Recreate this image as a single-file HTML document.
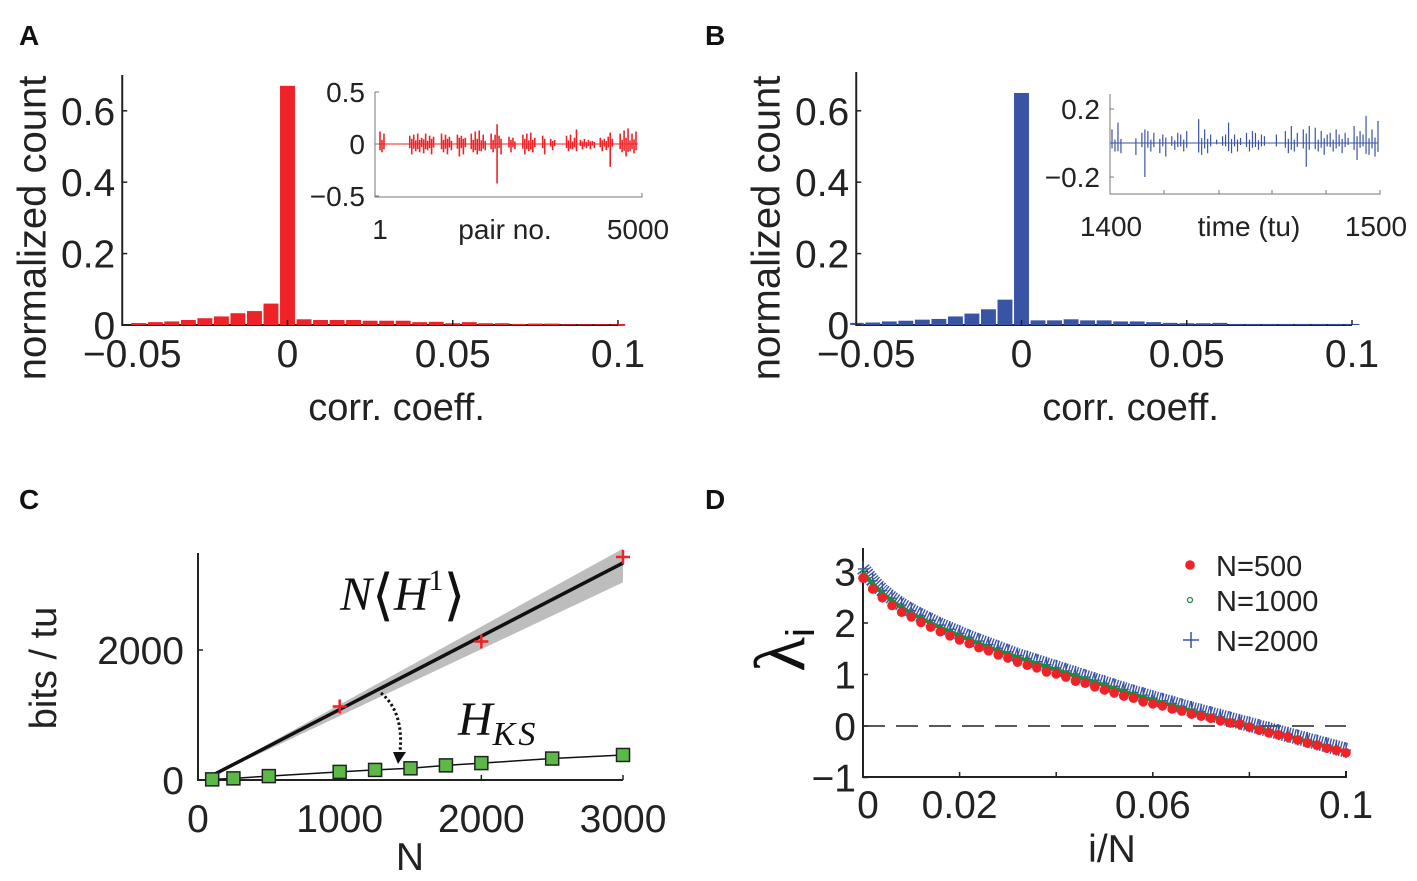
<!DOCTYPE html>
<html><head><meta charset="utf-8">
<style>
html,body{margin:0;padding:0;background:#fff;}
svg{display:block;font-family:"Liberation Sans",Arial,sans-serif;}
</style></head>
<body>
<svg id="fig" width="1417" height="881" viewBox="0 0 1417 881" xmlns="http://www.w3.org/2000/svg">
<g font-weight="bold" font-size="28" fill="#111">
<text x="19" y="45">A</text>
<text x="705" y="45">B</text>
<text x="19" y="509">C</text>
<text x="705" y="509">D</text>
</g>
<g id="pa"></g>
<g id="pb"></g>
<g id="pc"></g>
<g id="pd"></g>
</svg>
<script>
// ---- Panel A/B histogram data ----
const binCentersA = [-0.045,-0.04,-0.035,-0.03,-0.025,-0.02,-0.015,-0.01,-0.005,0,0.005,0.01,0.015,0.02,0.025,0.03,0.035,0.04,0.045,0.05,0.055,0.06,0.065,0.07,0.075,0.08,0.085,0.09,0.095,0.1];
const countsA = [0.0055,0.008,0.010,0.014,0.019,0.024,0.033,0.039,0.060,0.67,0.016,0.014,0.014,0.014,0.012,0.012,0.012,0.008,0.009,0.005,0.008,0.005,0.005,0.003,0.004,0.004,0.002,0.002,0.002,0.002];
const binCentersB = [-0.05,-0.045,-0.04,-0.035,-0.03,-0.025,-0.02,-0.015,-0.01,-0.005,0,0.005,0.01,0.015,0.02,0.025,0.03,0.035,0.04,0.045,0.05,0.055,0.06,0.065,0.07,0.075,0.08,0.085,0.09,0.095,0.1];
const countsB = [0.006,0.007,0.010,0.012,0.015,0.017,0.024,0.032,0.044,0.071,0.65,0.013,0.013,0.016,0.013,0.013,0.010,0.010,0.008,0.006,0.005,0.005,0.006,0.003,0.003,0.003,0.003,0.003,0.003,0.003,0.003];
const histXTicks = [-0.05,0,0.05,0.1];
const histXTickLabels = ["\u22120.05","0","0.05","0.1"];
const histYTicks = [0,0.2,0.4,0.6];
const histYTickLabels = ["0","0.2","0.4","0.6"];
// inset A (pair no.)
const insetAValues = [0.12,-0.08,0.1,0,0,0,0,0,0,0,0,0,0,0,0,
 0.08,-0.1,0.09,-0.07,0.1,-0.08,0.06,-0.09,0.1,-0.06,0.08,-0.1,0.07,0,0,0,
 0.1,-0.08,0.09,-0.1,0.07,-0.06,0,0,
 0.09,-0.12,0.08,-0.1,0.06,0,0,
 0.1,-0.08,0.12,-0.1,0.13,-0.07,0.09,-0.06,0,0,
 0.1,-0.08,0.09,-0.38,0.08,-0.1,0,0,0,
 0.07,-0.08,0.06,-0.05,0,0,0,
 0.09,-0.1,0.1,-0.07,0.11,-0.08,0.06,0,0,0,
 0.08,-0.1,0,0,
 0.05,-0.06,0.04,0,0,0,0,0,
 0.08,-0.07,0.09,-0.05,0.06,0.14,0,
 0.04,-0.05,0.05,-0.04,0.04,-0.05,0.03,-0.04,0,0,
 0.06,-0.07,0.05,-0.06,0.07,-0.22,0.05,0,0,0,
 0.1,-0.08,0.13,-0.12,0.15,-0.07,0.1,-0.09,0.12];
const insetAYTicks = [-0.5,0,0.5];
const insetAYLabels = ["\u22120.5","0","0.5"];
// inset B (time)
const insetBValues = [0.08,-0.05,0.12,-0.06,0,0,0,0,-0.07,0,0.06,-0.2,0.07,-0.05,0.06,0,-0.06,0.05,-0.08,0,
 0.04,-0.04,0.06,0.05,-0.05,0.07,0,0,0,0.14,-0.07,0.08,-0.06,0.05,0,0.02,0,0.04,0.05,0.12,
 -0.06,0.05,-0.05,0.03,0,0.06,-0.05,0.07,0.06,-0.04,0.05,0.04,0,0,0,0.05,0,0,0.07,-0.06,
 0.1,-0.05,0.06,0,0.08,-0.14,0.1,0,0.09,-0.05,0.07,-0.07,0.05,0.06,-0.05,0.08,0.05,-0.06,0.06,0.03,
 0,0.1,-0.1,0.07,0.05,0.16,-0.07,0.08,-0.08,0.13];
const insetBYTicks = [-0.2,0.2];
const insetBYLabels = ["\u22120.2","0.2"];

// ---- Panel C data ----
const nValues = [100,250,500,1000,1250,1500,1750,2000,2500,3000];
const hksValues = [10,25,60,125,155,180,225,260,330,385];
const meanLineN = [100,3000];
const meanLineH = [70,3340];
const bandUpper = [80,3560];
const bandLower = [60,3040];
const crossN = [1000,2000,3000];
const crossH = [1130,2130,3430];
const cXTicks = [0,1000,2000,3000];
const cYTicks = [0,2000];

// ---- Panel D data ----
const dX = [0,0.002,0.004,0.006,0.008,0.010,0.012,0.014,0.016,0.018,0.020,0.022,0.024,0.026,0.028,0.030,0.032,0.034,0.036,0.038,0.040,0.042,0.044,0.046,0.048,0.050,0.052,0.054,0.056,0.058,0.060,0.062,0.064,0.066,0.068,0.070,0.072,0.074,0.076,0.078,0.080,0.082,0.084,0.086,0.088,0.090,0.092,0.094,0.096,0.098,0.100];
const lambda500 = [2.87,2.66,2.49,2.34,2.21,2.12,2.01,1.92,1.83,1.75,1.67,1.60,1.52,1.46,1.38,1.32,1.24,1.18,1.13,1.05,1.01,0.95,0.87,0.83,0.76,0.70,0.64,0.58,0.54,0.47,0.43,0.39,0.33,0.29,0.23,0.19,0.15,0.10,0.06,0.04,-0.02,-0.08,-0.13,-0.17,-0.21,-0.27,-0.33,-0.37,-0.43,-0.47,-0.52];
const lambda1000 = [2.98,2.76,2.58,2.43,2.30,2.19,2.09,2.00,1.91,1.83,1.75,1.68,1.60,1.53,1.46,1.40,1.33,1.27,1.21,1.15,1.09,1.03,0.97,0.91,0.85,0.79,0.73,0.67,0.61,0.56,0.50,0.45,0.40,0.35,0.29,0.24,0.19,0.14,0.09,0.05,0.0,-0.05,-0.10,-0.15,-0.20,-0.25,-0.30,-0.35,-0.40,-0.45,-0.50];
const lambda2000 = [3.05,2.82,2.63,2.48,2.35,2.24,2.14,2.05,1.96,1.88,1.80,1.72,1.65,1.58,1.51,1.44,1.37,1.31,1.25,1.19,1.13,1.07,1.01,0.95,0.89,0.83,0.77,0.71,0.65,0.60,0.54,0.49,0.44,0.38,0.33,0.28,0.23,0.18,0.13,0.08,0.03,-0.02,-0.07,-0.12,-0.17,-0.22,-0.27,-0.32,-0.37,-0.42,-0.47];
const dXTicks = [0,0.02,0.04,0.06,0.08,0.1];
const dXLabels = {"0":"0","0.02":"0.02","0.06":"0.06","0.1":"0.1"};
const dYTicks = [-1,0,1,2,3];

const NS="http://www.w3.org/2000/svg";
function mk(parent,tag,attrs,txt){const e=document.createElementNS(NS,tag);for(const k in attrs)e.setAttribute(k,attrs[k]);if(txt!==undefined)e.textContent=txt;parent.appendChild(e);return e;}

function histogram(g,centers,counts,color,x0px,y0px,axTop){
  const xs=v=>x0px+(v-0)*3305, ys=v=>y0px-v*357;
  const ax=mk(g,'path',{d:`M${xs(-0.05)},${axTop} V${y0px} H${xs(0.1)}`,fill:'none',stroke:'#222','stroke-width':2});
  
  
  centers.forEach((c,i)=>{
    let l=xs(c-0.0025)+0.8, r=xs(c+0.0025)-0.8;
    if(l<xs(-0.05)+1) l=xs(-0.05)-6;
    const b=mk(g,'rect',{x:l,y:ys(counts[i]),width:r-l,height:y0px-ys(counts[i]),fill:color});
    
    
  });
  histYTicks.forEach((t,i)=>{
    mk(g,'line',{x1:xs(-0.05),x2:xs(-0.05)+5,y1:ys(t),y2:ys(t),stroke:'#222','stroke-width':1.5});
    const tl=mk(g,'text',{x:xs(-0.05)-7,y:ys(t)+14,'text-anchor':'end','font-size':39,fill:'#222'},histYTickLabels[i]);
    
    
  });
  histXTicks.forEach((t,i)=>{
    mk(g,'line',{x1:xs(t),x2:xs(t),y1:y0px,y2:y0px-5,stroke:'#222','stroke-width':1.5});
    const tl=mk(g,'text',{x:xs(t)+(i==0?10:0),y:y0px+42,'text-anchor':'middle','font-size':39,fill:'#222'},histXTickLabels[i]);
    
    
  });
  const xl=mk(g,'text',{x:xs(0.033),y:y0px+95,'text-anchor':'middle','font-size':38,fill:'#222'},'corr. coeff.');
  
  
  const yl=mk(g,'text',{transform:`translate(${xs(-0.05)-77},228) rotate(-90)`,'text-anchor':'middle','font-size':40,fill:'#222'},'normalized count');
  
  
}
histogram(document.getElementById('pa'),binCentersA,countsA,'#ee2227',287.5,325,75);
histogram(document.getElementById('pb'),binCentersB,countsB,'#3a54a5',1021.5,325,72);
mk(document.getElementById('pa'),'line',{x1:618,x2:625,y1:325,y2:325,stroke:'#ee2227','stroke-width':2});

// inset A
(function(){
  const g=mk(document.getElementById('pa'),'g',{});
  
  
  const x0=375,xr=642,y0=144,k=104;
  const ys=v=>y0-v*k;
  mk(g,'path',{d:`M${x0},92 V197 H${xr} V193`,fill:'none',stroke:'#777','stroke-width':1});
  mk(g,'line',{x1:x0,x2:xr-4,y1:y0,y2:y0,stroke:'#ee2227','stroke-width':1});
  const step=(636-380)/(insetAValues.length-1);
  insetAValues.forEach((v,i)=>{
    if(v===0) return;
    const x=380+i*step;
    const l=mk(g,'line',{x1:x,x2:x,y1:ys(v),y2:ys(-v*0.5),stroke:'#ee2227','stroke-width':1.6});
    
    
  });
  insetAYTicks.forEach((t,i)=>{
    mk(g,'line',{x1:x0,x2:x0+4,y1:ys(t),y2:ys(t),stroke:'#777'});
    mk(g,'text',{x:x0-10,y:ys(t)+10,'text-anchor':'end','font-size':28,fill:'#222'},insetAYLabels[i]);
  });
  mk(g,'text',{x:380,y:239,'text-anchor':'middle','font-size':28,fill:'#222'},'1');
  mk(g,'text',{x:505,y:239,'text-anchor':'middle','font-size':28,fill:'#222'},'pair no.');
  mk(g,'text',{x:638,y:239,'text-anchor':'middle','font-size':28,fill:'#222'},'5000');
})();
// inset B
(function(){
  const g=mk(document.getElementById('pb'),'g',{});
  
  
  const x0=1110,xr=1380,y0=143,k=170;
  const ys=v=>y0-v*k;
  mk(g,'path',{d:`M${x0},94 V194 H${xr} V190`,fill:'none',stroke:'#777','stroke-width':1});
  [1164,1219,1272,1326].forEach(x=>mk(g,'line',{x1:x,x2:x,y1:194,y2:190,stroke:'#777'}));
  mk(g,'line',{x1:x0,x2:xr-2,y1:y0,y2:y0,stroke:'#3a54a5','stroke-width':1});
  const step=(1378-1112)/(insetBValues.length-1);
  insetBValues.forEach((v,i)=>{
    if(v===0) return;
    const x=1112+i*step;
    const l=mk(g,'line',{x1:x,x2:x,y1:ys(v),y2:ys(-v*0.4),stroke:'#3a54a5','stroke-width':1.2});
    
    
  });
  insetBYTicks.forEach((t,i)=>{
    mk(g,'line',{x1:x0,x2:x0+4,y1:ys(t),y2:ys(t),stroke:'#777'});
    mk(g,'text',{x:x0-10,y:ys(t)+10,'text-anchor':'end','font-size':28,fill:'#222'},insetBYLabels[i]);
  });
  mk(g,'text',{x:1111,y:236,'text-anchor':'middle','font-size':28,fill:'#222'},'1400');
  mk(g,'text',{x:1249,y:236,'text-anchor':'middle','font-size':28,fill:'#222'},'time (tu)');
  mk(g,'text',{x:1376,y:236,'text-anchor':'middle','font-size':28,fill:'#222'},'1500');
})();

// Panel C
(function(){
  const g=document.getElementById('pc');
  const xs=v=>198+v*0.14167, ys=v=>780-v*0.065;
  const band=mk(g,'polygon',{points:`${xs(meanLineN[0])},${ys(bandUpper[0])} ${xs(meanLineN[1])},${ys(bandUpper[1])} ${xs(meanLineN[1])},${ys(bandLower[1])} ${xs(meanLineN[0])},${ys(bandLower[0])}`,fill:'#bdbdbd'});
  
  
  const ml=mk(g,'line',{x1:xs(meanLineN[0]),y1:ys(meanLineH[0]),x2:xs(meanLineN[1]),y2:ys(meanLineH[1]),stroke:'#111','stroke-width':3.5});
  
  
  mk(g,'path',{d:`M${xs(0)},553 V780 H${xs(3000)}`,fill:'none',stroke:'#222','stroke-width':2});
  cXTicks.forEach(t=>{
    mk(g,'line',{x1:xs(t),x2:xs(t),y1:780,y2:775,stroke:'#222','stroke-width':1.5});
    const tl=mk(g,'text',{x:xs(t),y:832,'text-anchor':'middle','font-size':39,fill:'#222'},String(t));
    
    
  });
  cYTicks.forEach(t=>{
    mk(g,'line',{x1:198,x2:203,y1:ys(t),y2:ys(t),stroke:'#222','stroke-width':1.5});
    const tl=mk(g,'text',{x:184,y:ys(t)+14,'text-anchor':'end','font-size':39,fill:'#222'},String(t));
    
    
  });
  const pts=nValues.map((n,i)=>`${xs(n)},${ys(hksValues[i])}`).join(' ');
  const hl=mk(g,'polyline',{points:pts,fill:'none',stroke:'#111','stroke-width':1.5});
  
  
  nValues.forEach((n,i)=>{
    const s=mk(g,'rect',{x:xs(n)-6.5,y:ys(hksValues[i])-6.5,width:13,height:13,fill:'#5cb947',stroke:'#222','stroke-width':1.5});
    
    
  });
  crossN.forEach((n,i)=>{
    const c=mk(g,'path',{d:`M${xs(n)-7},${ys(crossH[i])} h14 M${xs(n)},${ys(crossH[i])-7} v14`,stroke:'#ee2227','stroke-width':2.5});
    
    
  });
  const arr=mk(g,'path',{d:'M381,693 Q404,712 400,752',fill:'none',stroke:'#111','stroke-width':3,'stroke-dasharray':'2.5 2.5'});
  
  
  mk(g,'polygon',{points:'393,752 406,752 398,764',fill:'#111'});
  const l1=mk(g,'text',{x:340,y:610,'font-family':'"Liberation Serif",serif','font-size':48,fill:'#111'});
  
  
  l1.innerHTML='<tspan font-style="italic">N</tspan><tspan font-size="56" dy="4">⟨</tspan><tspan font-style="italic" dy="-4">H</tspan><tspan font-size="30" dy="-20">1</tspan><tspan font-size="56" dy="24">⟩</tspan>';
  const l2=mk(g,'text',{x:458,y:735,'font-family':'"Liberation Serif",serif','font-size':48,'font-style':'italic',fill:'#111'});
  
  
  l2.innerHTML='H<tspan font-size="34" dy="10" letter-spacing="3">KS</tspan>';
  const xt=mk(g,'text',{x:410,y:870,'text-anchor':'middle','font-size':39,fill:'#222'},'N');
  
  
  const yt=mk(g,'text',{transform:'translate(56,668) rotate(-90)','text-anchor':'middle','font-size':38,fill:'#222'},'bits / tu');
  
  
})();

// Panel D
(function(){
  const g=document.getElementById('pd');
  const xs=v=>863+v*4830, ys=v=>726-v*51.5;
  mk(g,'path',{d:`M863,548 V777 H1346 V771`,fill:'none',stroke:'#222','stroke-width':2});
  mk(g,'line',{x1:863,x2:1346,y1:ys(0),y2:ys(0),stroke:'#222','stroke-width':1.5,'stroke-dasharray':'22 11'});
  dXTicks.forEach(t=>{
    mk(g,'line',{x1:xs(t),x2:xs(t),y1:777,y2:772,stroke:'#222','stroke-width':1.5});
    const lab=dXLabels[String(t)];
    if(lab!==undefined){
      const tl=mk(g,'text',{x:xs(t)+(t===0?5:0),y:818,'text-anchor':'middle','font-size':39,fill:'#222'},lab);
      
      
    }
  });
  dYTicks.forEach(t=>{
    mk(g,'line',{x1:863,x2:868,y1:ys(t),y2:ys(t),stroke:'#222','stroke-width':1.5});
    const tl=mk(g,'text',{x:856,y:ys(t)+14,'text-anchor':'end','font-size':39,fill:'#222'},t<0?'\u2212'+Math.abs(t):String(t));
    
    
  });
  const bp=dX.map((x,i)=>`${xs(x)},${ys(lambda2000[i])}`).join(' ');
  const bl=mk(g,'polyline',{points:bp,fill:'none',stroke:'#3a54a5','stroke-width':15,'stroke-dasharray':'1.4 1.4'});
  
  
  dX.forEach((x,i)=>{
    const c=mk(g,'path',{d:`M${xs(x)-5},${ys(lambda2000[i])} h10 M${xs(x)},${ys(lambda2000[i])-8} v16`,stroke:'#3a54a5','stroke-width':1.3});
    
    
  });
  const gp=dX.map((x,i)=>`${xs(x)},${ys(lambda1000[i])}`).join(' ');
  const gl=mk(g,'polyline',{points:gp,fill:'none',stroke:'#1f8a3a','stroke-width':4});
  
  
  dX.forEach((x,i)=>{
    const c=mk(g,'circle',{cx:xs(x),cy:ys(lambda1000[i]),r:2.2,fill:'none',stroke:'#1f8a3a','stroke-width':1.2});
    
    
  });
  dX.forEach((x,i)=>{
    const c=mk(g,'circle',{cx:xs(x),cy:ys(lambda500[i]),r:4.8,fill:'#ee2227'});
    
    
  });
  const lg=mk(g,'g',{});
  
  
  mk(lg,'circle',{cx:1190,cy:565,r:4.8,fill:'#ee2227'});
  mk(lg,'text',{x:1216,y:576,'font-size':29,fill:'#222'},'N=500');
  mk(lg,'circle',{cx:1190,cy:600,r:2.5,fill:'none',stroke:'#1f8a3a','stroke-width':1.3});
  mk(lg,'text',{x:1216,y:611,'font-size':29,fill:'#222'},'N=1000');
  mk(lg,'path',{d:'M1183,640 h16 M1191,632 v16',stroke:'#3a54a5','stroke-width':1.5});
  mk(lg,'text',{x:1216,y:651,'font-size':29,fill:'#222'},'N=2000');
  const xt=mk(g,'text',{x:1112,y:862,'text-anchor':'middle','font-size':39,fill:'#222'},'i/N');
  
  
  const yt=mk(g,'text',{transform:'translate(804,650) rotate(-90)','text-anchor':'middle','font-family':'"Liberation Serif",serif','font-size':72,fill:'#111'});
  
  
  yt.innerHTML='λ<tspan font-family="Liberation Sans, sans-serif" font-size="40" dy="10">i</tspan>';
})();
</script>
</body></html>
